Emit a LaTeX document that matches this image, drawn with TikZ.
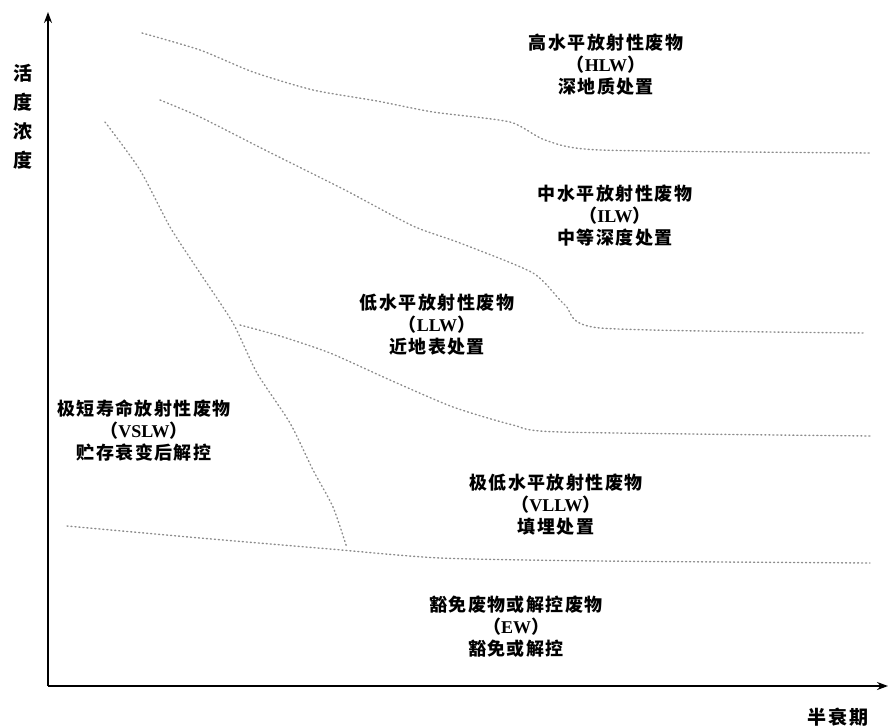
\documentclass[tikz,border=0pt]{standalone}
\usepackage{fontspec}
\usetikzlibrary{arrows.meta}
\setmainfont{Liberation Serif}
\newfontfamily\cjk{Noto Sans CJK SC}[LetterSpace=8]
\tikzset{
  lab/.style={font=\cjk\bfseries\fontsize{18}{22}\selectfont, align=center, inner sep=0pt},
  axlab/.style={font=\cjk\bfseries\fontsize{19}{29}\selectfont, align=center, inner sep=0pt},
  bound/.style={black!45, line width=1.4pt, dash pattern=on 1pt off 3pt, line cap=round, line join=round},
  axisline/.style={line width=2.2pt, -{Stealth[length=11pt,width=8pt]}}
}
\newcommand{\lat}[1]{{\rmfamily\bfseries #1}}
\begin{document}
\begin{tikzpicture}[x=1pt,y=-1pt]
\useasboundingbox (0,0) rectangle (889,726);
% axes
\coordinate (O) at (48,686);
\coordinate (ytop) at (48,12);
\coordinate (xend) at (888,686);
\draw[axisline] (O) -- (ytop);
\draw[axisline] (O) -- (xend);
% boundaries
\draw[bound] plot[smooth, tension=0.4] coordinates {(142,33) (200,50) (253,72) (313,90) (377,101) (433,112) (510,122) (545,140) (600,150) (870,153)};
\draw[bound] plot[smooth, tension=0.4] coordinates {(160,100) (200,117) (265,150) (345,190) (413,226) (460,243) (533,273) (565,305) (600,328) (866,333)};
\draw[bound] plot[smooth, tension=0.4] coordinates {(105,122) (140,170) (170,227) (200,273) (233,323) (257,373) (290,423) (313,470) (333,507) (347,548)};
\draw[bound] plot[smooth, tension=0.4] coordinates {(240,325) (280,336) (330,353) (390,380) (453,407) (513,425) (560,432) (870,436)};
\draw[bound] plot[smooth, tension=0.4] coordinates {(67,526) (200,538) (330,549) (440,558) (600,561) (870,563)};
% labels
\node[lab] (hlw) at (606,65) {高水平放射性废物\\（\lat{HLW}）\\深地质处置};
\node[lab] (ilw) at (615,216) {中水平放射性废物\\（\lat{ILW}）\\中等深度处置};
\node[lab] (llw) at (437,325) {低水平放射性废物\\（\lat{LLW}）\\近地表处置};
\node[lab] (vslw) at (144,431) {极短寿命放射性废物\\（\lat{VSLW}）\\贮存衰变后解控};
\node[lab] (vllw) at (556,505) {极低水平放射性废物\\（\lat{VLLW}）\\填埋处置};
\node[lab] (ew) at (516,627) {豁免废物或解控废物\\（\lat{EW}）\\豁免或解控};
\node[axlab] (ylab) at (23,117) {活\\度\\浓\\度};
\node[axlab] (xlab) at (838,717) {半衰期};
\end{tikzpicture}
\end{document}
